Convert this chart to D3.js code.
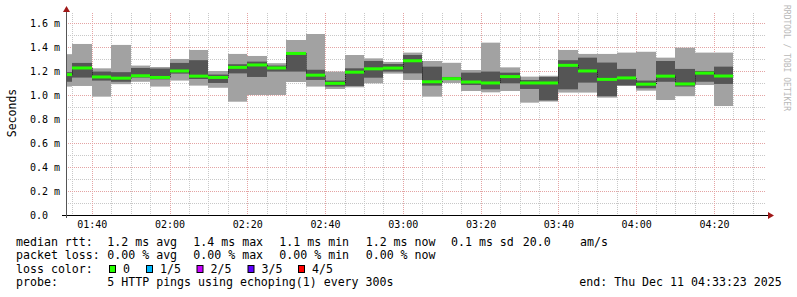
<!DOCTYPE html>
<html>
<head>
<meta charset="utf-8">
<script src="https://cdn.jsdelivr.net/npm/d3@7"></script>
<style>
  body { margin: 0; background: #fff; }
  svg text { font-family: "DejaVu Sans Mono", monospace; }
</style>
</head>
<body>
<svg id="chart" width="797" height="297"></svg>
<script>
// end of each 5 minute step
var times = ['01:35', '01:40', '01:45', '01:50', '01:55', '02:00', '02:05', '02:10', '02:15', '02:20',
  '02:25', '02:30', '02:35', '02:40', '02:45', '02:50', '02:55', '03:00', '03:05', '03:10',
  '03:15', '03:20', '03:25', '03:30', '03:35', '03:40', '03:45', '03:50', '03:55', '04:00',
  '04:05', '04:10', '04:15', '04:20', '04:25']

// sorted pings (ms): lowest, 2nd, median, 4th, highest
var pingMin = [1.07, 1.075, 0.986, 1.09, 1.11, 1.07, 1.12, 1.078, 1.06, 0.944,
  1.0, 1.0, 1.108, 1.07, 1.05, 1.064, 1.097, 1.178, 1.125, 0.986,
  1.10, 1.033, 1.022, 1.033, 0.936, 0.945, 1.02, 1.02, 0.978, 1.075,
  1.036, 0.958, 0.99, 1.083, 0.908]
var ping2 = [1.11, 1.145, 1.12, 1.11, 1.145, 1.13, 1.178, 1.133, 1.10, 1.18,
  1.15, 1.195, 1.195, 1.125, 1.07, 1.075, 1.144, 1.195, 1.18, 1.078,
  1.125, 1.083, 1.047, 1.097, 1.05, 0.955, 1.047, 1.103, 0.99, 1.08,
  1.056, 1.11, 1.07, 1.11, 1.092]
var median = [1.17, 1.225, 1.15, 1.14, 1.16, 1.146, 1.20, 1.157, 1.146, 1.23,
  1.25, 1.225, 1.346, 1.165, 1.097, 1.19, 1.218, 1.224, 1.285, 1.11,
  1.136, 1.108, 1.10, 1.153, 1.10, 1.10, 1.247, 1.20, 1.13, 1.142,
  1.09, 1.157, 1.092, 1.182, 1.158]
var ping4 = [1.19, 1.267, 1.195, 1.19, 1.225, 1.22, 1.267, 1.29, 1.17, 1.256,
  1.278, 1.245, 1.353, 1.21, 1.12, 1.222, 1.283, 1.258, 1.333, 1.236,
  1.15, 1.186, 1.195, 1.186, 1.125, 1.15, 1.29, 1.311, 1.27, 1.217,
  1.12, 1.283, 1.217, 1.20, 1.236]
var pingMax = [1.34, 1.425, 1.222, 1.417, 1.245, 1.233, 1.30, 1.375, 1.20, 1.342,
  1.325, 1.265, 1.458, 1.508, 1.195, 1.333, 1.305, 1.275, 1.353, 1.283,
  1.268, 1.208, 1.436, 1.23, 1.153, 1.16, 1.375, 1.342, 1.342, 1.353,
  1.36, 1.311, 1.394, 1.353, 1.353]

var xTickLabels = ['01:40', '02:00', '02:20', '02:40', '03:00', '03:20', '03:40', '04:00', '04:20']
var yTicks = [0, 0.2, 0.4, 0.6, 0.8, 1.0, 1.2, 1.4, 1.6]
var yTickLabels = ['0.0', '0.2 m', '0.4 m', '0.6 m', '0.8 m', '1.0 m', '1.2 m', '1.4 m', '1.6 m']

var lossNames = ['0', '1/5', '2/5', '3/5', '4/5']
var lossColors = ['#26ff00', '#00b8ff', '#c800ff', '#5e00ff', '#ff0000']

var rttLegend = ['median rtt:', '1.2 ms avg', '1.4 ms max', '1.1 ms min', '1.2 ms now', '0.1 ms sd', '20.0', 'am/s']
var lossLegend = ['packet loss:', '0.00 % avg', '0.00 % max', '0.00 % min', '0.00 % now']
var probeLegend = ['probe:', '5 HTTP pings using echoping(1) every 300s']
var endLabel = 'end: Thu Dec 11 04:33:23 2025'

var parseTime = d3.timeParse('%Y-%m-%d %H:%M:%S')
var day = '2025-12-11 '
var t0 = parseTime(day + '01:33:23')
  , t1 = parseTime(day + '04:33:23')

var pLeft = 66, pRight = 766, pTop = 13, pBottom = 215

var x = d3.scaleTime().domain([t0, t1]).range([pLeft, pRight])
var y = d3.scaleLinear().domain([0, 1.683]).range([pBottom, pTop])

var svg = d3.select('#chart')

svg.append('defs').append('clipPath').attr('id', 'plotClip')
  .append('rect').attr('x', pLeft).attr('y', pTop - 2).attr('width', pRight - pLeft).attr('height', pBottom - pTop + 2)

var steps = times.map(function(t, i) {
  var end = parseTime(day + t + ':00')
  return {
    start: d3.timeMinute.offset(end, -5), end: end,
    min: pingMin[i], p2: ping2[i], med: median[i], p4: ping4[i], max: pingMax[i]
  }
})

// grid
var grid = svg.append('g')
var minorY = d3.range(1, 17).filter(function(k) { return k % 2 }).map(function(k) { return k / 10 })
grid.selectAll('line.ymin').data(minorY).enter().append('line')
  .attr('x1', pLeft).attr('x2', pRight)
  .attr('y1', function(d) { return Math.round(y(d)) + 0.5 })
  .attr('y2', function(d) { return Math.round(y(d)) + 0.5 })
  .attr('stroke', '#c8c8c8').attr('stroke-dasharray', '1,1')

var minorX = d3.timeMinute.every(5).range(t0, t1).filter(function(d) { return d.getMinutes() % 20 })
grid.selectAll('line.xmin').data(minorX).enter().append('line')
  .attr('x1', function(d) { return Math.round(x(d)) + 0.5 })
  .attr('x2', function(d) { return Math.round(x(d)) + 0.5 })
  .attr('y1', pTop).attr('y2', pBottom)
  .attr('stroke', '#c8c8c8').attr('stroke-dasharray', '1,1')

grid.selectAll('line.ymaj').data(yTicks.slice(1)).enter().append('line')
  .attr('x1', pLeft).attr('x2', pRight)
  .attr('y1', function(d) { return Math.round(y(d)) + 0.5 })
  .attr('y2', function(d) { return Math.round(y(d)) + 0.5 })
  .attr('stroke', '#e4a4a4').attr('stroke-dasharray', '1,1')

var majorX = xTickLabels.map(function(l) { return parseTime(day + l + ':00') })
grid.selectAll('line.xmaj').data(majorX).enter().append('line')
  .attr('x1', function(d) { return Math.round(x(d)) + 0.5 })
  .attr('x2', function(d) { return Math.round(x(d)) + 0.5 })
  .attr('y1', pTop).attr('y2', pBottom)
  .attr('stroke', '#e4a4a4').attr('stroke-dasharray', '1,1')

// smoke
var plot = svg.append('g').attr('clip-path', 'url(#plotClip)')
var bx = function(d) { return Math.round(x(d.start)) }
  , bw = function(d) { return Math.round(x(d.end)) - Math.round(x(d.start)) }

plot.selectAll('rect.outer').data(steps).enter().append('rect')
  .attr('x', bx).attr('width', bw)
  .attr('y', function(d) { return y(d.max) })
  .attr('height', function(d) { return y(d.min) - y(d.max) })
  .attr('fill', '#a2a2a2')

plot.selectAll('rect.inner').data(steps).enter().append('rect')
  .attr('x', bx).attr('width', bw)
  .attr('y', function(d) { return y(d.p4) })
  .attr('height', function(d) { return y(d.p2) - y(d.p4) })
  .attr('fill', '#555555')

// median as a step line, then the loss colour band on top
var stepPts = []
steps.forEach(function(d) {
  stepPts.push([Math.round(x(d.start)) + 0.5, y(d.med)])
  stepPts.push([Math.round(x(d.end)) + 0.5, y(d.med)])
})
plot.append('path')
  .attr('d', d3.line()(stepPts))
  .attr('fill', 'none').attr('stroke', '#202020').attr('stroke-dasharray', '1,1')

plot.selectAll('rect.med').data(steps).enter().append('rect')
  .attr('x', bx).attr('width', bw)
  .attr('y', function(d) { return y(d.med) - 1.5 })
  .attr('height', 3)
  .attr('fill', lossColors[0])

// axes
svg.append('line').attr('x1', pLeft - 4).attr('x2', pRight + 4)
  .attr('y1', pBottom + 0.5).attr('y2', pBottom + 0.5).attr('stroke', '#000')
svg.append('line').attr('x1', pLeft + 0.5).attr('x2', pLeft + 0.5)
  .attr('y1', pBottom + 3).attr('y2', pTop - 2).attr('stroke', '#555')
svg.append('path').attr('d', 'M' + (pRight + 2) + ',' + (pBottom - 3) + 'L' + (pRight + 8) + ',' + (pBottom + 0.5) + 'L' + (pRight + 2) + ',' + (pBottom + 4) + 'Z')
  .attr('fill', '#a01818')
svg.append('path').attr('d', 'M' + (pLeft - 3) + ',' + (pTop - 1) + 'L' + (pLeft + 0.5) + ',' + (pTop - 7) + 'L' + (pLeft + 4) + ',' + (pTop - 1) + 'Z')
  .attr('fill', '#a01818')

svg.selectAll('text.ylab').data(yTicks).enter().append('text')
  .attr('x', 30).attr('y', function(d) { return y(d) + 3.8 })
  .attr('font-size', '10px').attr('fill', '#000')
  .text(function(d, i) { return yTickLabels[i] })

svg.selectAll('text.xlab').data(majorX).enter().append('text')
  .attr('x', function(d) { return x(d) + 0.5 }).attr('y', 228)
  .attr('text-anchor', 'middle').attr('font-size', '10px').attr('fill', '#000')
  .text(function(d, i) { return xTickLabels[i] })

svg.append('text').attr('transform', 'translate(15.5,113) rotate(-90)')
  .attr('text-anchor', 'middle').attr('font-size', '11.5px').attr('fill', '#000')
  .text('Seconds')

svg.append('text').attr('transform', 'translate(784,5) rotate(90)')
  .attr('font-size', '8px').attr('fill', '#b8b8b8')
  .text('RRDTOOL / TOBI OETIKER')

// legend
var cols = [16, 107.3, 193.3, 279.3, 365.7, 451, 522.7, 580]
var legend = svg.append('g').attr('font-size', '11.6px').attr('fill', '#000')
var addRow = function(items, yy) {
  items.forEach(function(s, i) {
    legend.append('text').attr('x', cols[i]).attr('y', yy).attr('xml:space', 'preserve').text(s)
  })
}
addRow(rttLegend, 245.5)
addRow(lossLegend, 259)
legend.append('text').attr('x', 16).attr('y', 272.5).text('loss color:')
var boxX = [109, 146, 196.5, 247.5, 298]
lossNames.forEach(function(n, i) {
  legend.append('rect').attr('x', boxX[i] + 0.5).attr('y', 265.5).attr('width', 6).attr('height', 7)
    .attr('fill', lossColors[i]).attr('stroke', '#000')
  legend.append('text').attr('x', boxX[i] + 14).attr('y', 272.5).text(n)
})
addRow(probeLegend, 286)
legend.append('text').attr('x', 579.3).attr('y', 286).text(endLabel)
</script>
</body>
</html>
